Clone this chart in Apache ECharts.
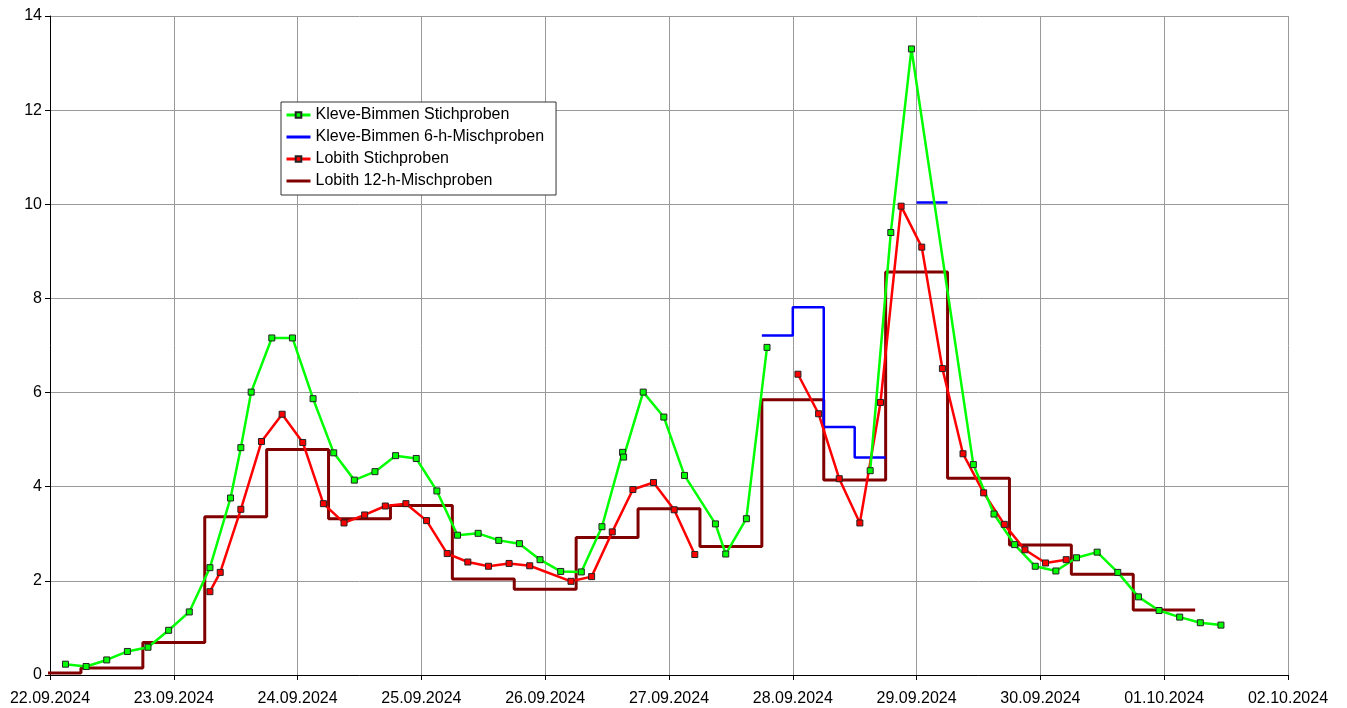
<!DOCTYPE html>
<html>
<head>
<meta charset="utf-8">
<title>Kleve-Bimmen / Lobith</title>
<script src="https://cdn.jsdelivr.net/npm/echarts@6/dist/echarts.min.js"></script>
<style>
html, body { margin: 0; padding: 0; background: #fff; }
#chart { width: 1347px; height: 708px; }
</style>
</head>
<body>
<div id="chart"></div>
<script>
// x in Stunden seit 22.09.2024 00:00
var dayLabels = ['22.09.2024', '23.09.2024', '24.09.2024', '25.09.2024', '26.09.2024', '27.09.2024',
                 '28.09.2024', '29.09.2024', '30.09.2024', '01.10.2024', '02.10.2024'];

// Kleve-Bimmen Stichproben (null = Lücke)
var kleveHours = [3, 7, 11, 15, 19, 23, 27, 31, 35, 37, 39, 43, 47, 51, 55, 59, 63, 67, 71, 75,
                  79, 83, 87, 91, 95, 99, 103, 107, 111, 111.2, 115, 119, 123, 129, 131, 135, 139,
                  149, 159, 163, 167, 179, 183, 187, 191, 195, 199, 203, 207, 211, 215, 219, 223, 227];
var kleveValues = [0.23, 0.18, 0.32, 0.50, 0.59, 0.95, 1.34, 2.28, 3.76, 4.83, 6.01, 7.16, 7.16, 5.87, 4.72, 4.14, 4.32, 4.66, 4.60, 3.91,
                   2.97, 3.01, 2.86, 2.79, 2.45, 2.20, 2.19, 3.15, 4.73, 4.63, 6.01, 5.48, 4.24, 3.21, 2.57, 3.32, 6.96,
                   null, 4.34, 9.40, 13.30, 4.47, 3.42, 2.77, 2.31, 2.21, 2.49, 2.61, 2.18, 1.66, 1.37, 1.23, 1.11, 1.06];

// Lobith Stichproben
var lobithHours = [31, 33, 37, 41, 45, 49, 53, 57, 61, 65, 69, 73, 77, 81, 85, 89, 93, 101, 105, 109,
                   113, 117, 121, 125, 135, 145, 149, 153, 157, 161, 165, 169, 173, 177, 181, 185, 189, 193, 197];
var lobithValues = [1.77, 2.18, 3.52, 4.96, 5.54, 4.94, 3.64, 3.23, 3.40, 3.59, 3.64, 3.28, 2.58, 2.40, 2.31, 2.37, 2.32, 1.99, 2.09, 3.04,
                    3.94, 4.09, 3.51, 2.56, null, 6.39, 5.55, 4.17, 3.23, 5.79, 9.96, 9.09, 6.51, 4.70, 3.87, 3.20, 2.66, 2.38, 2.45];

// Kleve-Bimmen 6-h-Mischproben (Beginn in Stunden)
var kleveMixStart = [138, 144, 150, 156, 168];
var kleveMixValues = [7.21, 7.81, 5.27, 4.62, 10.04];
var kleveMixLength = 6;

// Lobith 12-h-Mischproben (Beginn in Stunden)
var lobithMixStart = [-6, 6, 18, 30, 42, 54, 66, 78, 90, 102, 114, 126, 138, 150, 162, 174, 186, 198, 210];
var lobithMixValues = [0.04, 0.15, 0.69, 3.36, 4.79, 3.32, 3.60, 2.04, 1.82, 2.92, 3.53, 2.73, 5.85, 4.14, 8.56, 4.18, 2.76, 2.14, 1.38];
var lobithMixLength = 12;

var font = 'Liberation Sans, Arial, sans-serif';

function pointData(hours, values) {
  return hours.map(function (h, i) {
    return [h, values[i] == null ? '-' : values[i]];
  });
}

// jede Mischprobe als waagerechter Abschnitt, Lücken unterbrechen die Linie
function stepData(starts, values, len) {
  var out = [];
  for (var i = 0; i < starts.length; i++) {
    if (i > 0 && starts[i] !== starts[i - 1] + len) out.push([starts[i], '-']);
    out.push([starts[i], values[i]]);
    out.push([starts[i] + len, values[i]]);
  }
  return out;
}

var chart = echarts.init(document.getElementById('chart'));

var option = {
  animation: false,
  grid: { left: 50, right: 59, top: 16, bottom: 33 },
  legend: {
    orient: 'vertical',
    left: 281,
    top: 102,
    data: [
      'Kleve-Bimmen Stichproben',
      { name: 'Kleve-Bimmen 6-h-Mischproben', itemStyle: { opacity: 0 } },
      'Lobith Stichproben',
      { name: 'Lobith 12-h-Mischproben', itemStyle: { opacity: 0 } }
    ],
    backgroundColor: '#fff',
    borderColor: '#333',
    borderWidth: 1,
    borderRadius: 0,
    padding: [5, 12, 6, 4],
    itemWidth: 24,
    itemHeight: 7,
    itemGap: 6,
    lineStyle: { width: 3 },
    textStyle: { fontFamily: font, fontSize: 16, color: '#000', lineHeight: 16 }
  },
  xAxis: {
    type: 'value',
    min: 0,
    max: 240,
    interval: 24,
    axisLine: { lineStyle: { color: '#000', width: 1 } },
    axisTick: { length: 5, lineStyle: { color: '#000' } },
    axisLabel: {
      formatter: function (v) { return dayLabels[Math.round(v / 24)]; },
      fontFamily: font, fontSize: 16, color: '#000', margin: 16
    },
    splitLine: { show: true, lineStyle: { color: '#999', width: 1 } }
  },
  yAxis: {
    type: 'value',
    min: 0,
    max: 14,
    interval: 2,
    axisLine: { show: true, lineStyle: { color: '#000', width: 1 } },
    axisTick: { show: true, length: 5, lineStyle: { color: '#000' } },
    axisLabel: { fontFamily: font, fontSize: 16, color: '#000', margin: 8 },
    splitLine: { show: true, lineStyle: { color: '#999', width: 1 } }
  },
  series: [
    {
      name: 'Lobith 12-h-Mischproben',
      type: 'line',
      data: stepData(lobithMixStart, lobithMixValues, lobithMixLength),
      showSymbol: false,
      symbol: 'none',
      lineStyle: { color: '#800000', width: 3 },
      itemStyle: { color: '#800000' }
    },
    {
      name: 'Kleve-Bimmen 6-h-Mischproben',
      type: 'line',
      data: stepData(kleveMixStart, kleveMixValues, kleveMixLength),
      showSymbol: false,
      symbol: 'none',
      lineStyle: { color: '#0000ff', width: 2.5 },
      itemStyle: { color: '#0000ff' }
    },
    {
      name: 'Lobith Stichproben',
      type: 'line',
      data: pointData(lobithHours, lobithValues),
      symbol: 'rect',
      symbolSize: 6,
      lineStyle: { color: '#ff0000', width: 2.5 },
      itemStyle: { color: '#ff0000', borderColor: '#222', borderWidth: 1 }
    },
    {
      name: 'Kleve-Bimmen Stichproben',
      type: 'line',
      data: pointData(kleveHours, kleveValues),
      symbol: 'rect',
      symbolSize: 6,
      lineStyle: { color: '#00ff00', width: 2.5 },
      itemStyle: { color: '#00ff00', borderColor: '#222', borderWidth: 1 }
    }
  ]
};

chart.setOption(option);
</script>
</body>
</html>
